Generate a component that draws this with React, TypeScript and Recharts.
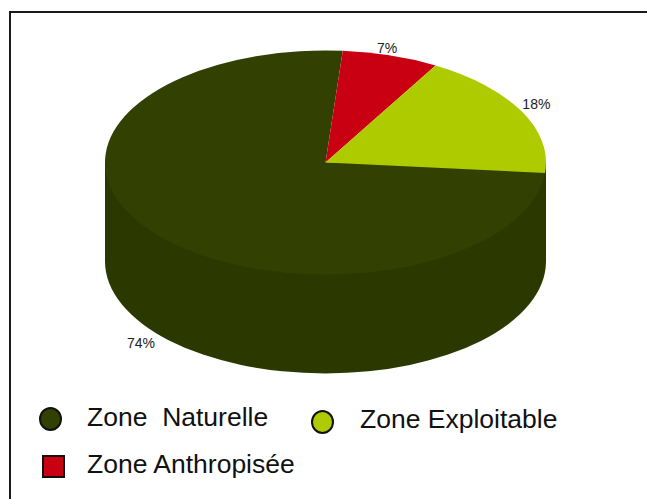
import React from "react";
import { PieChart, Pie, Cell, Legend } from "recharts";

const zoneNames = ["Zone  Naturelle", "Zone Anthropisée", "Zone Exploitable"];
const zoneValues = [74, 7, 18];
const zoneColors = ["#324102", "#c80012", "#aecb00"];
const wallColor = "#2b3900";

const data = zoneNames.map((name, i) => ({ name, value: zoneValues[i] }));

const CX = 325.5;
const CY = 162.5;
const RX = 220.5;
const RY = 112;
const DEPTH = 99;
const RAD = Math.PI / 180;
const FONT = "Liberation Sans";

const labelNudge: Record<number, [number, number]> = {
  74: [-2, 4],
  7: [-9, 0],
  18: [-1, -3],
};

function EllipseSector(props: any) {
  const { cx, cy, outerRadius, startAngle, endAngle, fill, name, payload } = props;
  const rx = outerRadius;
  const ry = (outerRadius * RY) / RX;
  const sx = cx + rx * Math.cos(startAngle * RAD);
  const sy = cy - ry * Math.sin(startAngle * RAD);
  const ex = cx + rx * Math.cos(endAngle * RAD);
  const ey = cy - ry * Math.sin(endAngle * RAD);
  const large = Math.abs(startAngle - endAngle) > 180 ? 1 : 0;
  const label = name ?? payload?.name;
  return (
    <g>
      {label === zoneNames[0] && (
        <path
          fill={wallColor}
          d={`M${cx - rx},${cy} L${cx - rx},${cy + DEPTH} A${rx},${ry} 0 0 0 ${cx + rx},${cy + DEPTH} L${cx + rx},${cy} Z`}
        />
      )}
      <path fill={fill} d={`M${cx},${cy} L${sx},${sy} A${rx},${ry} 0 ${large} 1 ${ex},${ey} Z`} />
    </g>
  );
}

function sliceLabel(props: any) {
  const { cx, cy, outerRadius, midAngle, value } = props;
  const c = Math.cos(midAngle * RAD);
  const s = Math.sin(midAngle * RAD);
  const [nx, ny] = labelNudge[value] ?? [0, 0];
  const x = cx + (outerRadius + 18) * c + nx;
  const y = cy - ((outerRadius * RY) / RX + 8) * s + (s < 0 ? DEPTH : 0) + ny;
  return (
    <text x={x} y={y} textAnchor="middle" dominantBaseline="central" fontSize={14} fontFamily={FONT} fill="#222">
      {value}%
    </text>
  );
}

const legendLayout = [
  { left: 39, top: 407, w: 23, h: 24, tx: 87, ty: 402, round: true },
  { left: 311, top: 410, w: 23, h: 24, tx: 360, ty: 404, round: true },
  { left: 42, top: 455, w: 23, h: 23, tx: 87, ty: 449, round: false },
];
const legendOrder = [zoneNames[0], zoneNames[2], zoneNames[1]];

function LegendContent({ payload }: any) {
  return (
    <div style={{ position: "relative", width: 647, height: 499 }}>
      {legendOrder.map((nm, i) => {
        const entry = (payload || []).find((p: any) => p.value === nm);
        const l = legendLayout[i];
        return (
          <React.Fragment key={nm}>
            <div
              style={{
                position: "absolute",
                left: l.left,
                top: l.top,
                width: l.w,
                height: l.h,
                boxSizing: "border-box",
                border: "2px solid #111",
                borderRadius: l.round ? "50%" : 0,
                background: entry?.color ?? zoneColors[zoneNames.indexOf(nm)],
              }}
            />
            <div
              style={{
                position: "absolute",
                left: l.tx,
                top: l.ty,
                fontFamily: FONT,
                fontSize: 26.5,
                lineHeight: "30px",
                color: "#111",
                whiteSpace: "pre",
              }}
            >
              {nm}
            </div>
          </React.Fragment>
        );
      })}
    </div>
  );
}

export default function App() {
  return (
    <div style={{ position: "absolute", left: 0, top: 0, width: 647, height: 499, background: "#fff", overflow: "hidden" }}>
      <div style={{ position: "absolute", left: 9, top: 11, width: 638, height: 2, background: "#1a1a1a" }} />
      <div style={{ position: "absolute", left: 9, top: 11, width: 2, height: 488, background: "#1a1a1a" }} />
      <PieChart width={647} height={499} style={{ position: "absolute", left: 0, top: 0 }} margin={{ top: 0, right: 0, bottom: 0, left: 0 }}>
        <Pie
          data={data}
          dataKey="value"
          nameKey="name"
          cx={CX}
          cy={CY}
          innerRadius={0}
          outerRadius={RX}
          startAngle={-5.4}
          endAngle={-365.4}
          paddingAngle={0}
          stroke="none"
          isAnimationActive={false}
          labelLine={false}
          label={sliceLabel}
          shape={EllipseSector}
        >
          {data.map((d, i) => (
            <Cell key={d.name} fill={zoneColors[i]} />
          ))}
        </Pie>
        <Legend
          content={LegendContent}
          wrapperStyle={{ position: "absolute", left: 0, top: 0, width: 647, height: 499, margin: 0 }}
        />
      </PieChart>
    </div>
  );
}
